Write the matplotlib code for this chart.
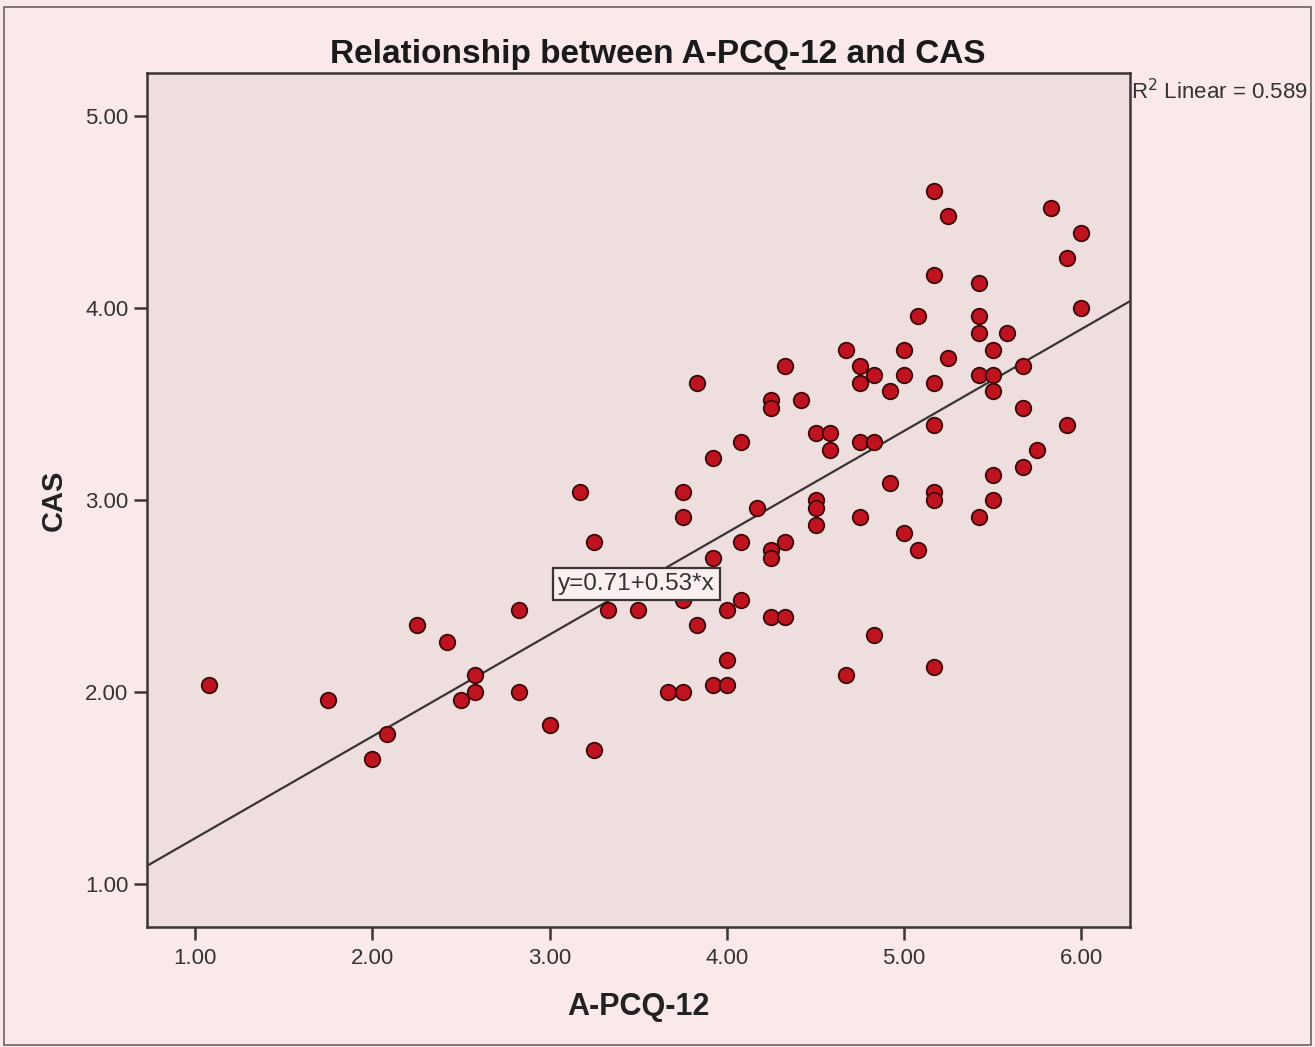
import matplotlib
matplotlib.use("Agg")
import matplotlib.pyplot as plt
import numpy as np
from matplotlib.patches import Rectangle

plt.rcParams['font.family'] = ['Liberation Sans', 'DejaVu Sans']

# Data (A-PCQ-12 vs CAS)
apcq = [1.08, 1.75, 2.00, 2.08, 2.25, 2.42, 2.50, 2.58, 2.58, 2.83,
        2.83, 3.00, 3.17, 3.25, 3.25, 3.33, 3.50, 3.75, 3.92, 4.00,
        4.08, 3.83, 4.00, 3.92, 4.00, 3.67, 3.75, 3.75, 3.75, 3.92,
        3.83, 4.08, 4.17, 4.08, 4.25, 4.25, 4.33, 4.25, 4.33, 4.25,
        4.25, 4.33, 4.42, 4.50, 4.58, 4.58, 4.50, 4.50, 4.50, 4.67,
        4.75, 4.75, 4.83, 5.00, 5.00, 4.92, 4.75, 4.83, 4.92, 4.75,
        5.00, 5.08, 4.83, 4.67, 5.17, 5.17, 5.17, 5.17, 5.17, 5.17,
        5.25, 5.17, 5.42, 5.83, 6.00, 5.92, 6.00, 5.08, 5.42, 5.42,
        5.58, 5.50, 5.25, 5.67, 5.42, 5.50, 5.50, 5.67, 5.92, 5.75,
        5.67, 5.50, 5.50, 5.42]
cas = [2.04, 1.96, 1.65, 1.78, 2.35, 2.26, 1.96, 2.09, 2.00, 2.43,
       2.00, 1.83, 3.04, 2.78, 1.70, 2.43, 2.43, 2.48, 2.70, 2.43,
       2.48, 2.35, 2.17, 2.04, 2.04, 2.00, 2.00, 3.04, 2.91, 3.22,
       3.61, 3.30, 2.96, 2.78, 2.74, 2.70, 2.78, 2.39, 2.39, 3.52,
       3.48, 3.70, 3.52, 3.35, 3.35, 3.26, 3.00, 2.96, 2.87, 3.78,
       3.70, 3.61, 3.65, 3.78, 3.65, 3.57, 3.30, 3.30, 3.09, 2.91,
       2.83, 2.74, 2.30, 2.09, 2.13, 3.61, 3.39, 3.04, 3.00, 4.61,
       4.48, 4.17, 4.13, 4.52, 4.39, 4.26, 4.00, 3.96, 3.96, 3.87,
       3.87, 3.78, 3.74, 3.70, 3.65, 3.65, 3.57, 3.48, 3.39, 3.26,
       3.17, 3.13, 3.00, 2.91]

intercept = 0.71
slope = 0.53
r2_label = "R$^2$ Linear = 0.589"
eq_label = "y=0.71+0.53*x"
xticks = [1, 2, 3, 4, 5, 6]
yticks = [1, 2, 3, 4, 5]

outer_bg = '#f9e9e9'
axes_bg = '#eedede'
spine_c = '#3a3636'

fig = plt.figure(figsize=(13.15, 10.47), dpi=100)
fig.patch.set_facecolor(outer_bg)
# outer frame
fig.add_artist(Rectangle((0.003, 0.002), 0.994, 0.991, transform=fig.transFigure,
                         fill=False, edgecolor='#6a6262', linewidth=1.2))

ax = fig.add_axes([0.1118, 0.1146, 0.7475, 0.8157])
ax.set_facecolor(axes_bg)
ax.set_xlim(0.729, 6.274)
ax.set_ylim(0.778, 5.223)

xl = np.array(ax.get_xlim())
ax.plot(xl, intercept + slope * xl, color='#3a3434', linewidth=1.6, zorder=2)

ax.scatter(apcq, cas, s=125, facecolor='#bf1420', edgecolor='#3d0808',
           linewidth=1.3, zorder=3)

ax.text(3.49, 2.563, eq_label, ha='center', va='center', fontsize=17.5,
        color='#333333', zorder=5,
        bbox=dict(boxstyle='square,pad=0.22', facecolor='#fbf0f0',
                  edgecolor='#3a3434', linewidth=1.6))

ax.set_xticks(xticks)
ax.set_xticklabels([f"{v:.2f}" for v in xticks])
ax.set_yticks(yticks)
ax.set_yticklabels([f"{v:.2f}" for v in yticks])
ax.tick_params(axis='both', direction='out', length=9.5, width=1.8,
               color=spine_c, labelsize=16, labelcolor='#333333', pad=4)
ax.tick_params(axis='x', pad=5.5)
for s in ax.spines.values():
    s.set_color(spine_c)
    s.set_linewidth(1.8)

ax.set_xlabel("A-PCQ-12", fontsize=22, fontweight='bold', color='#222222',
              labelpad=17)
ax.set_ylabel("CAS", fontsize=21, fontweight='bold', color='#222222',
              labelpad=12)
ax.set_title("Relationship between A-PCQ-12 and CAS", fontsize=24,
             fontweight='bold', color='#1a1a1a', pad=7, x=0.52)

fig.text(1131 / 1315, 1 - 92 / 1047, r2_label, ha='left', va='center',
         fontsize=16, color='#333333')

fig.savefig("out.png", dpi=100, facecolor=outer_bg)
